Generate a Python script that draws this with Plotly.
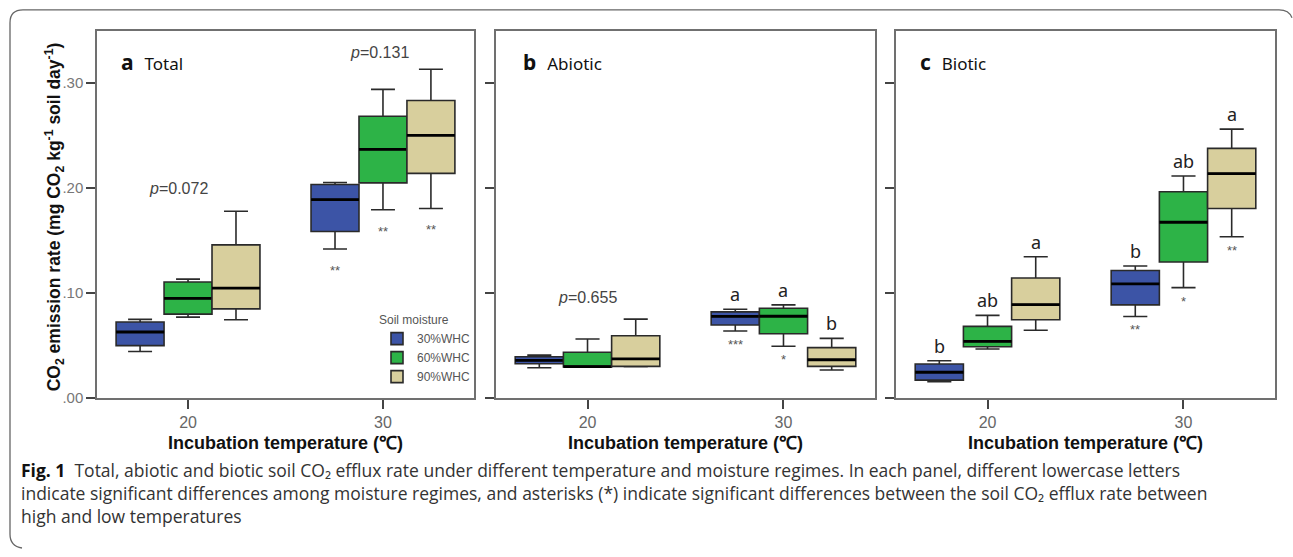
import plotly.graph_objects as go

W, H = 1293, 557

# ---------------- data (rows: 30%, 60%, 90% WHC ; cols: 20 °C, 30 °C) ----------------
TEMPS = ["20", "30"]
MOISTURE = ["30%WHC", "60%WHC", "90%WHC"]
COLORS = ["#3c54a6", "#2db347", "#d8cf9d"]

TOTAL_LOW = [[0.0444, 0.142], [0.0772, 0.1794], [0.0747, 0.1806]]
TOTAL_Q1 = [[0.050, 0.1587], [0.080, 0.205], [0.085, 0.214]]
TOTAL_MED = [[0.063, 0.189], [0.095, 0.2369], [0.1047, 0.2503]]
TOTAL_Q3 = [[0.0725, 0.2034], [0.1106, 0.2684], [0.146, 0.2834]]
TOTAL_HIGH = [[0.075, 0.2053], [0.1134, 0.294], [0.178, 0.3131]]

ABIO_LOW = [[0.029, 0.064], [0.0295, 0.0494], [0.030, 0.0269]]
ABIO_Q1 = [[0.0328, 0.0697], [0.0297, 0.0613], [0.0303, 0.0303]]
ABIO_MED = [[0.036, 0.0778], [0.030, 0.078], [0.0375, 0.0366]]
ABIO_Q3 = [[0.0394, 0.0822], [0.0438, 0.0856], [0.0594, 0.0481]]
ABIO_HIGH = [[0.041, 0.0847], [0.0563, 0.0888], [0.0753, 0.0569]]

BIO_LOW = [[0.0156, 0.0778], [0.0469, 0.1053], [0.0647, 0.1537]]
BIO_Q1 = [[0.0172, 0.0888], [0.049, 0.1297], [0.0747, 0.1806]]
BIO_MED = [[0.0247, 0.1088], [0.0541, 0.1675], [0.0891, 0.2138]]
BIO_Q3 = [[0.0325, 0.1216], [0.0684, 0.1966], [0.1144, 0.2378]]
BIO_HIGH = [[0.0356, 0.1259], [0.0788, 0.2116], [0.1347, 0.2562]]

# significance letters (rows: moisture, cols: temperature)
ABIO_LETTERS = [["", "a"], ["", "a"], ["", "b"]]
BIO_LETTERS = [["b", "b"], ["ab", "ab"], ["a", "a"]]
# asterisks under the 30 °C boxes
TOTAL_STARS = ["**", "**", "**"]
ABIO_STARS = ["***", "*", ""]
BIO_STARS = ["**", "*", "**"]

# p values: (panel, temperature index, label position on y axis, text)
P_PANEL = [0, 0, 1]
P_TEMP = [0, 1, 0]
P_Y = [0.200, 0.329, 0.096]
P_TEXT = ["0.072", "0.131", "0.655"]

PANEL_TAGS = ["a", "b", "c"]
PANEL_NAMES = ["Total", "Abiotic", "Biotic"]
YTICK_VALS = [0.0, 0.1, 0.2, 0.3]
YTICK_TEXT = [".00", ".10", ".20", ".30"]

# ---------------- layout geometry ----------------
PLOT_TOP, PLOT_BOTTOM = 31, 404
PANEL_X = [(97, 474), (496, 875), (896, 1275)]
TAG_X = [0.058, 0.066, 0.058]
XRANGE = [-0.467, 1.467]
BOXGAP = 0.262

panels = [
    (TOTAL_LOW, TOTAL_Q1, TOTAL_MED, TOTAL_Q3, TOTAL_HIGH, None, TOTAL_STARS, 18),
    (ABIO_LOW, ABIO_Q1, ABIO_MED, ABIO_Q3, ABIO_HIGH, ABIO_LETTERS, ABIO_STARS, 10),
    (BIO_LOW, BIO_Q1, BIO_MED, BIO_Q3, BIO_HIGH, BIO_LETTERS, BIO_STARS, 10),
]

fig = go.Figure()
annotations = []

LETTER_FONT = dict(family="Noto Sans, Open Sans, sans-serif", size=18, color="#222")
STAR_FONT = dict(family="Liberation Sans, Arial, sans-serif", size=13, color="#555")
AX_FONT = "Liberation Sans, Arial, sans-serif"


def axnames(p):
    return ("x", "y") if p == 0 else (f"x{p+1}", f"y{p+1}")


for p, (lo, q1, med, q3, hi, letters, stars, star_gap) in enumerate(panels):
    xa, ya = axnames(p)
    for m in range(3):
        fig.add_trace(go.Box(
            x=TEMPS, lowerfence=lo[m], q1=q1[m], median=med[m], q3=q3[m], upperfence=hi[m],
            name=MOISTURE[m], legendgroup=MOISTURE[m], showlegend=(p == 0),
            fillcolor=COLORS[m], line=dict(color="#2a2a2a", width=1.6),
            whiskerwidth=0.5, offsetgroup=str(m), xaxis=xa, yaxis=ya,
            boxpoints=False, hoverinfo="skip",
        ))
        # thick median bar overlay
        fig.add_trace(go.Box(
            x=TEMPS, lowerfence=med[m], q1=med[m], median=med[m], q3=med[m], upperfence=med[m],
            name=MOISTURE[m], legendgroup=MOISTURE[m], showlegend=False,
            fillcolor="rgba(0,0,0,0)", line=dict(color="#000", width=2.8),
            whiskerwidth=0, offsetgroup=str(m), xaxis=xa, yaxis=ya,
            boxpoints=False, hoverinfo="skip",
        ))

    x0, x1 = PANEL_X[p]
    px_per_unit = (x1 - x0) / (XRANGE[1] - XRANGE[0])
    box_px = (1 - BOXGAP) / 3 * px_per_unit
    for m in range(3):
        shift = (m - 1) * box_px
        for t in range(2):
            if letters and letters[m][t]:
                annotations.append(dict(
                    x=t, y=hi[m][t], xref=xa, yref=ya, xshift=shift, yshift=1,
                    text=letters[m][t], showarrow=False, yanchor="bottom", font=LETTER_FONT))
        if stars[m]:
            annotations.append(dict(
                x=1, y=lo[m][1], xref=xa, yref=ya, xshift=shift, yshift=-(star_gap - 6),
                text=stars[m], showarrow=False, yanchor="top", font=STAR_FONT))

    # panel tag
    annotations.append(dict(
        x=TAG_X[p], y=0.914, xref=f"{xa} domain", yref=f"{ya} domain", xanchor="left", yanchor="middle",
        text=f"<b>{PANEL_TAGS[p]}</b>&nbsp; <span style='font-size:17px'>{PANEL_NAMES[p]}</span>",
        showarrow=False, font=dict(family="Noto Sans, Open Sans, sans-serif", size=21, color="#111")))
    # x title
    annotations.append(dict(
        x=0.5, y=1 - 449 / H, xref=f"{xa} domain", yref="paper", yanchor="middle",
        text="<b>Incubation temperature (℃)</b>", showarrow=False,
        font=dict(family=AX_FONT, size=18, color="#111")))

# p values
P_FONT = dict(family=AX_FONT, size=16, color="#444")
P_XSHIFT = [-10, -3, 0]
for i in range(len(P_TEXT)):
    xa, ya = axnames(P_PANEL[i])
    annotations.append(dict(
        x=P_TEMP[i], y=P_Y[i], xref=xa, yref=ya, xshift=P_XSHIFT[i],
        text=f"<i>p</i>={P_TEXT[i]}", showarrow=False, font=P_FONT))

# y title
annotations.append(dict(
    x=40 / W, y=1 - 220 / H, xref="paper", yref="paper", textangle=-90,
    text="<b>CO<sub>2</sub> emission rate (mg CO<sub>2</sub> kg<sup>-1</sup> soil day<sup>-1</sup>)</b>",
    showarrow=False, font=dict(family=AX_FONT, size=17.5, color="#111")))

# caption
CAP_FONT = dict(family="Open Sans, Noto Sans, sans-serif", size=17.5, color="#333")
caption = [
    "<b style='color:#111'>Fig. 1</b>&nbsp; Total, abiotic and biotic soil CO₂ efflux rate under different "
    "temperature and moisture regimes. In each panel, different lowercase letters",
    "indicate significant differences among moisture regimes, and asterisks (*) indicate significant "
    "differences between the soil CO₂ efflux rate between",
    "high and low temperatures",
]
annotations.append(dict(
    x=19 / W, y=1 - 463 / H, xref="paper", yref="paper", xanchor="left",
    yanchor="top", text="<br>".join(caption), showarrow=False, font=CAP_FONT, align="left"))

layout = dict(
    width=W, height=H, margin=dict(l=0, r=0, t=0, b=0), autosize=False,
    paper_bgcolor="white", plot_bgcolor="white",
    boxmode="group", boxgap=BOXGAP, boxgroupgap=0,
    annotations=annotations,
    legend=dict(
        x=377 / W, y=1 - 313 / H, xanchor="left", yanchor="top",
        title=dict(text="Soil moisture", font=dict(size=12, color="#555", family=AX_FONT)),
        font=dict(size=12, color="#555", family=AX_FONT),
        bgcolor="rgba(0,0,0,0)", itemwidth=30, tracegroupgap=0,
    ),
    shapes=[
        dict(
            type="path", xref="paper", yref="paper",
            path=(f"M {10/W} {1-23/H} Q {10/W} {1-10/H} {23/W} {1-10/H} "
                  f"L {1279/W} {1-10/H} Q {1289/W} {1-10/H} {1292/W} {1-18/H} "
                  f"M {10/W} {1-23/H} L {10/W} {1-542/H} Q {10/W} {1-554/H} {22/W} {1-556/H}"),
            line=dict(color="#666", width=1.3)),
    ],
)

for p in range(3):
    x0, x1 = PANEL_X[p]
    xk = "xaxis" if p == 0 else f"xaxis{p+1}"
    yk = "yaxis" if p == 0 else f"yaxis{p+1}"
    layout[xk] = dict(
        domain=[x0 / W, x1 / W], anchor="y" if p == 0 else f"y{p+1}",
        type="category", categoryorder="array", categoryarray=TEMPS, range=XRANGE,
        showline=True, mirror=True, linecolor="#707070", linewidth=1.5,
        ticks="outside", ticklen=9, tickwidth=1.5, tickcolor="#444",
        showgrid=False, zeroline=False,
        tickfont=dict(family=AX_FONT, size=16, color="#666"),
        fixedrange=True,
    )
    layout[yk] = dict(
        domain=[1 - PLOT_BOTTOM / H, 1 - PLOT_TOP / H], anchor="x" if p == 0 else f"x{p+1}",
        range=[0, 0.35], tickvals=YTICK_VALS, ticktext=YTICK_TEXT,
        showticklabels=(p == 0),
        showline=True, mirror=True, linecolor="#707070", linewidth=1.5,
        ticks="outside", ticklen=9, tickwidth=1.5, tickcolor="#444",
        showgrid=False, zeroline=False,
        tickfont=dict(family=AX_FONT, size=15, color="#777"),
        fixedrange=True,
    )

fig.update_layout(**layout)
fig.write_html(
    "out.html",
    config={"displayModeBar": False},
    post_script=("document.documentElement.style.overflow='hidden';"
                 "document.body.style.margin='0';document.body.style.overflow='hidden';"),
)
